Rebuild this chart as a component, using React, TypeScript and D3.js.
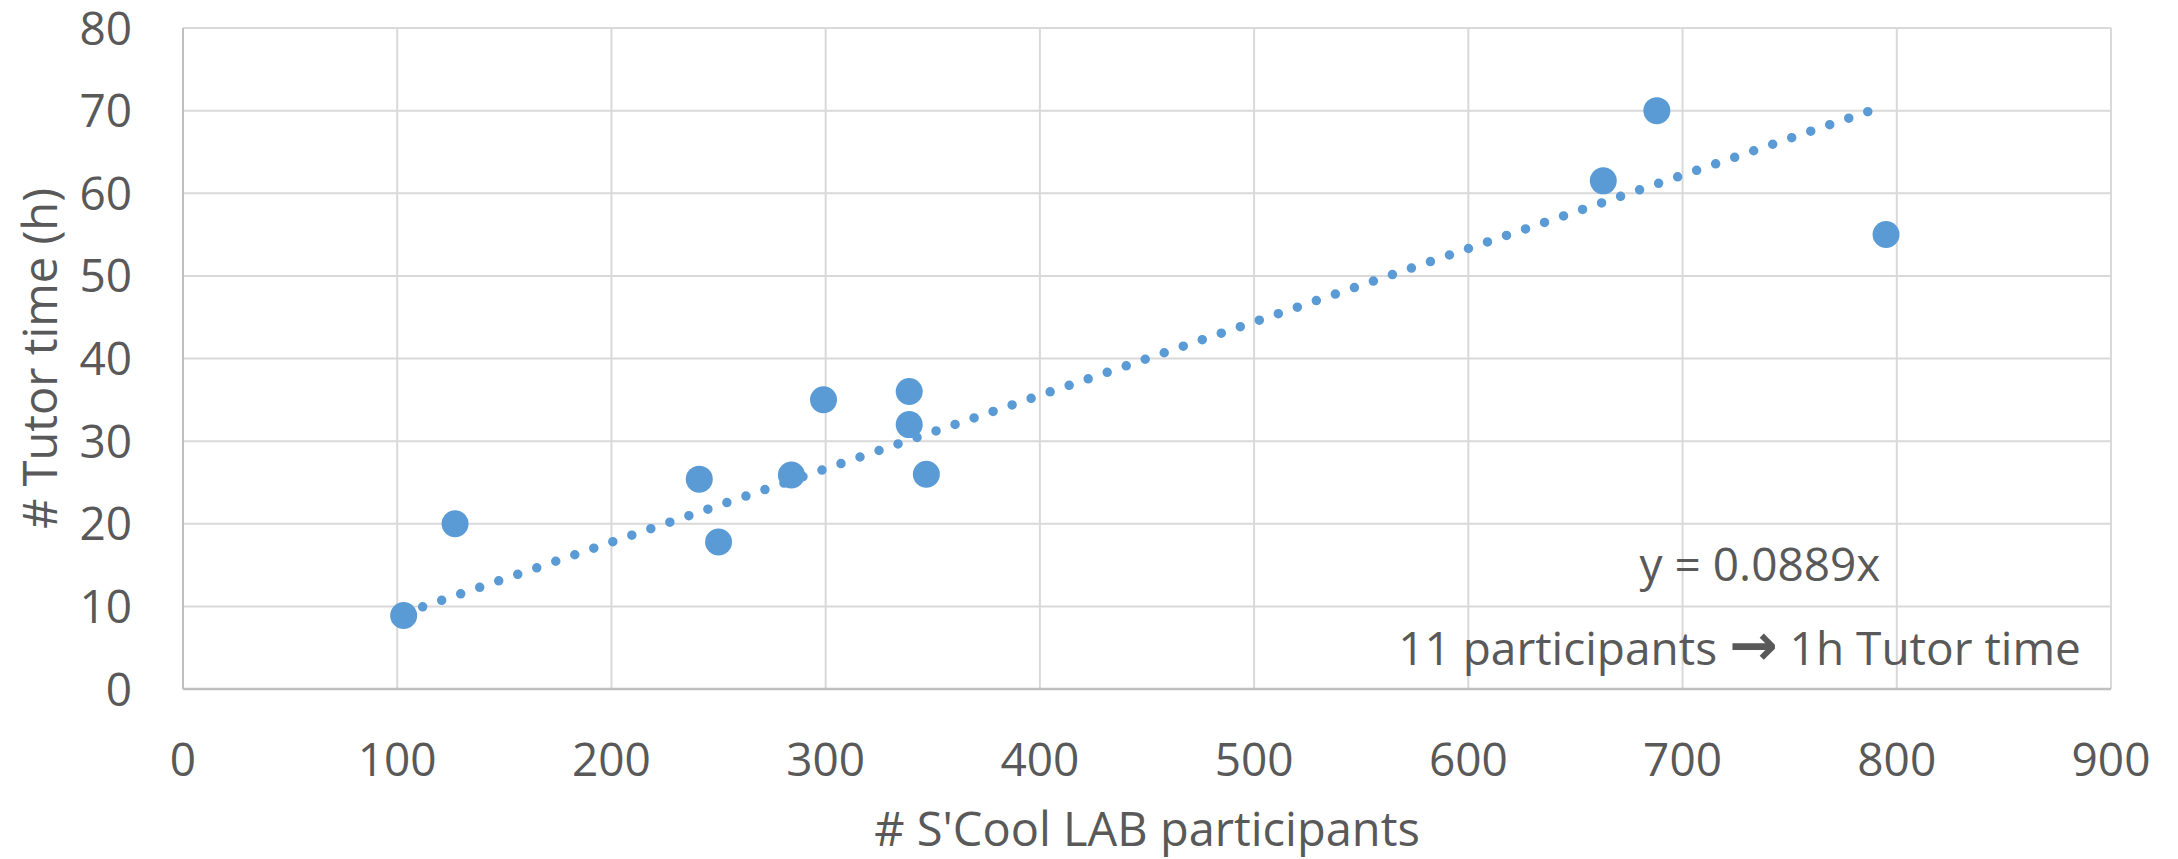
import React from "react";
import * as d3 from "d3";

const participants = [103, 127, 241, 250, 284, 299, 339, 339, 347, 663, 688, 795];
const tutorHours = [8.9, 20, 25.4, 17.8, 25.9, 35, 36, 32, 26, 61.5, 70, 55];
const xTicks = [0, 100, 200, 300, 400, 500, 600, 700, 800, 900];
const yTicks = [0, 10, 20, 30, 40, 50, 60, 70, 80];
const xTitle = "# S'Cool LAB participants";
const yTitle = "# Tutor time (h)";
const equationLabel = "y = 0.0889x";
const ruleLeft = "11 participants ";
const ruleArrow = "\u2192";
const ruleRight = " 1h Tutor time";

const W = 2178;
const H = 859;
const M = { left: 183, right: 2111, top: 28, bottom: 689 };
const BLUE = "#5B9BD5";
const TEXT = "#595959";
const GRID = "#D9D9D9";
const FONT = "'Open Sans', 'Noto Sans', sans-serif";

export default function App() {
  const x = d3.scaleLinear().domain([0, 900]).range([M.left, M.right]);
  const y = d3.scaleLinear().domain([0, 80]).range([M.bottom, M.top]);

  // least-squares slope through origin
  const sxy = d3.sum(participants, (p, i) => p * tutorHours[i]);
  const sxx = d3.sum(participants, (p) => p * p);
  const slope = sxy / sxx;
  const xMin = d3.min(participants) as number;
  const xMax = d3.max(participants) as number;
  const trend = d3.line<number>().x((v) => x(v)).y((v) => y(slope * v))([xMin, xMax]) as string;

  return (
    <svg
      width={W}
      height={H}
      style={{ position: "absolute", left: 0, top: 0, background: "#fff" }}
      fontFamily={FONT}
    >
      <rect x={0} y={0} width={W} height={H} fill="#fff" />
      {/* gridlines */}
      {yTicks.map((t) => (
        <line key={"gy" + t} x1={M.left} x2={M.right} y1={y(t)} y2={y(t)} stroke={GRID} strokeWidth={2} />
      ))}
      {xTicks.map((t) => (
        <line key={"gx" + t} x1={x(t)} x2={x(t)} y1={M.top} y2={M.bottom} stroke={GRID} strokeWidth={2} />
      ))}
      <line x1={M.left} x2={M.right} y1={y(0)} y2={y(0)} stroke="#BFBFBF" strokeWidth={2.5} />
      <line x1={x(0)} x2={x(0)} y1={M.top} y2={M.bottom} stroke="#BFBFBF" strokeWidth={2} />

      {/* tick labels */}
      {yTicks.map((t) => (
        <text key={"ty" + t} x={132} y={y(t) + 16.5} textAnchor="end" fontSize={46} fill={TEXT}>
          {t}
        </text>
      ))}
      {xTicks.map((t) => (
        <text key={"tx" + t} x={x(t)} y={776} textAnchor="middle" fontSize={46} fill={TEXT}>
          {t}
        </text>
      ))}

      {/* trendline */}
      <path
        d={trend}
        fill="none"
        stroke={BLUE}
        strokeWidth={9.5}
        strokeLinecap="round"
        strokeDasharray="0 20.1"
      />

      {/* markers */}
      {participants.map((p, i) => (
        <circle key={"pt" + i} cx={x(p)} cy={y(tutorHours[i])} r={13.5} fill={BLUE} />
      ))}

      {/* annotations */}
      <text x={1760} y={581} textAnchor="middle" fontSize={46} fill={TEXT}>
        {equationLabel}
      </text>
      <text x={1739.5} y={665} textAnchor="middle" fontSize={46} fill={TEXT}>
        <tspan>{ruleLeft}</tspan>
        <tspan fontFamily="'DejaVu Sans', sans-serif" fontWeight="bold" fontSize={58}>
          {ruleArrow}
        </tspan>
        <tspan>{ruleRight}</tspan>
      </text>

      {/* axis titles */}
      <text x={(M.left + M.right) / 2} y={846} textAnchor="middle" fontSize={47} fill={TEXT}>
        {xTitle}
      </text>
      <text
        transform={`translate(57, ${(M.top + M.bottom) / 2}) rotate(-90)`}
        textAnchor="middle"
        fontSize={47}
        fill={TEXT}
      >
        {yTitle}
      </text>
    </svg>
  );
}
